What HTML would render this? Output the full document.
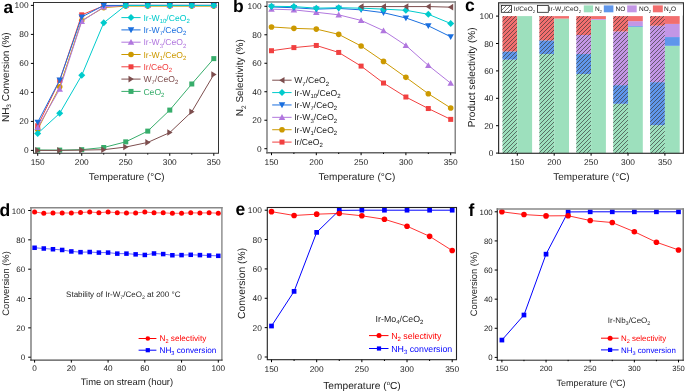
<!DOCTYPE html><html><head><meta charset="utf-8"><style>html,body{margin:0;padding:0;background:#fff;}svg{display:block;will-change:transform;}text{font-family:"Liberation Sans",sans-serif;text-rendering:geometricPrecision;}</style></head><body>
<svg width="685" height="391" viewBox="0 0 685 391">
<defs><pattern id="hatch" patternUnits="userSpaceOnUse" width="4" height="4"><path d="M-1 1L1 -1M0 4L4 0M3 5L5 3" stroke="#333" stroke-width="0.65"/></pattern></defs>
<path d="M37.7 149.97 L59.71 150.11 L81.73 149.68 L103.74 147.5 L125.75 141.84 L147.76 131.12 L169.78 110.09 L191.79 83.99 L213.8 58.62" fill="none" stroke="#37AD6B" stroke-width="1.0" stroke-opacity="1.0" stroke-linejoin="round"/><rect x="35.2" y="147.47" width="5" height="5" fill="#37AD6B"/><rect x="57.21" y="147.61" width="5" height="5" fill="#37AD6B"/><rect x="79.23" y="147.18" width="5" height="5" fill="#37AD6B"/><rect x="101.24" y="145" width="5" height="5" fill="#37AD6B"/><rect x="123.25" y="139.34" width="5" height="5" fill="#37AD6B"/><rect x="145.26" y="128.62" width="5" height="5" fill="#37AD6B"/><rect x="167.28" y="107.59" width="5" height="5" fill="#37AD6B"/><rect x="189.29" y="81.49" width="5" height="5" fill="#37AD6B"/><rect x="211.3" y="56.12" width="5" height="5" fill="#37AD6B"/><path d="M37.7 150.4 L59.71 150.4 L81.73 150.11 L103.74 149.68 L125.75 147.06 L147.76 142.43 L169.78 132.56 L191.79 111.69 L213.8 74.57" fill="none" stroke="#7D4E4E" stroke-width="1.0" stroke-opacity="1.0" stroke-linejoin="round"/><path d="M35.23 147.1L35.23 153.7L40.51 150.4Z" fill="#7D4E4E"/><path d="M57.24 147.1L57.24 153.7L62.52 150.4Z" fill="#7D4E4E"/><path d="M79.25 146.81L79.25 153.41L84.53 150.11Z" fill="#7D4E4E"/><path d="M101.26 146.38L101.26 152.98L106.54 149.68Z" fill="#7D4E4E"/><path d="M123.28 143.76L123.28 150.37L128.56 147.06Z" fill="#7D4E4E"/><path d="M145.29 139.12L145.29 145.73L150.57 142.43Z" fill="#7D4E4E"/><path d="M167.3 129.26L167.3 135.87L172.58 132.56Z" fill="#7D4E4E"/><path d="M189.31 108.39L189.31 114.98L194.59 111.69Z" fill="#7D4E4E"/><path d="M211.33 71.27L211.33 77.87L216.61 74.57Z" fill="#7D4E4E"/><path d="M37.7 129.38 L59.71 86.75 L81.73 20.62 L103.74 7.58 L125.75 6.12 L147.76 6.12 L169.78 6.12 L191.79 6.12 L213.8 6.12" fill="none" stroke="#CC9900" stroke-width="1.0" stroke-opacity="1.0" stroke-linejoin="round"/><circle cx="37.7" cy="129.38" r="2.8" fill="#CC9900"/><circle cx="59.71" cy="86.75" r="2.8" fill="#CC9900"/><circle cx="81.73" cy="20.62" r="2.8" fill="#CC9900"/><circle cx="103.74" cy="7.58" r="2.8" fill="#CC9900"/><circle cx="125.75" cy="6.12" r="2.8" fill="#CC9900"/><circle cx="147.76" cy="6.12" r="2.8" fill="#CC9900"/><circle cx="169.78" cy="6.12" r="2.8" fill="#CC9900"/><circle cx="191.79" cy="6.12" r="2.8" fill="#CC9900"/><circle cx="213.8" cy="6.12" r="2.8" fill="#CC9900"/><path d="M37.7 125.75 L59.71 80.37 L81.73 14.83 L103.74 5.84 L125.75 5.4 L147.76 5.4 L169.78 5.4 L191.79 5.4 L213.8 5.4" fill="none" stroke="#F14040" stroke-width="1.0" stroke-opacity="1.0" stroke-linejoin="round"/><rect x="35.2" y="123.25" width="5" height="5" fill="#F14040"/><rect x="57.21" y="77.87" width="5" height="5" fill="#F14040"/><rect x="79.23" y="12.33" width="5" height="5" fill="#F14040"/><rect x="101.24" y="3.34" width="5" height="5" fill="#F14040"/><rect x="123.25" y="2.9" width="5" height="5" fill="#F14040"/><rect x="145.26" y="2.9" width="5" height="5" fill="#F14040"/><rect x="167.28" y="2.9" width="5" height="5" fill="#F14040"/><rect x="189.29" y="2.9" width="5" height="5" fill="#F14040"/><rect x="211.3" y="2.9" width="5" height="5" fill="#F14040"/><path d="M37.7 127.49 L59.71 89.06 L81.73 21.35 L103.74 6.85 L125.75 5.4 L147.76 5.4 L169.78 5.4 L191.79 5.4 L213.8 5.4" fill="none" stroke="#B177DE" stroke-width="1.0" stroke-opacity="1.0" stroke-linejoin="round"/><path d="M34.45 130.09L40.95 130.09L37.7 124.24Z" fill="#B177DE"/><path d="M56.46 91.66L62.96 91.66L59.71 85.81Z" fill="#B177DE"/><path d="M78.48 23.95L84.98 23.95L81.73 18.1Z" fill="#B177DE"/><path d="M100.49 9.45L106.99 9.45L103.74 3.6Z" fill="#B177DE"/><path d="M122.5 8L129 8L125.75 2.15Z" fill="#B177DE"/><path d="M144.51 8L151.01 8L147.76 2.15Z" fill="#B177DE"/><path d="M166.53 8L173.03 8L169.78 2.15Z" fill="#B177DE"/><path d="M188.54 8L195.04 8L191.79 2.15Z" fill="#B177DE"/><path d="M210.55 8L217.05 8L213.8 2.15Z" fill="#B177DE"/><path d="M37.7 122.27 L59.71 80.08 L81.73 17 L103.74 5.4 L125.75 5.4 L147.76 5.4 L169.78 5.4 L191.79 5.4 L213.8 5.4" fill="none" stroke="#1A6FDF" stroke-width="1.0" stroke-opacity="1.0" stroke-linejoin="round"/><path d="M34.45 119.67L40.95 119.67L37.7 125.52Z" fill="#1A6FDF"/><path d="M56.46 77.48L62.96 77.48L59.71 83.33Z" fill="#1A6FDF"/><path d="M78.48 14.4L84.98 14.4L81.73 20.25Z" fill="#1A6FDF"/><path d="M100.49 2.8L106.99 2.8L103.74 8.65Z" fill="#1A6FDF"/><path d="M122.5 2.8L129 2.8L125.75 8.65Z" fill="#1A6FDF"/><path d="M144.51 2.8L151.01 2.8L147.76 8.65Z" fill="#1A6FDF"/><path d="M166.53 2.8L173.03 2.8L169.78 8.65Z" fill="#1A6FDF"/><path d="M188.54 2.8L195.04 2.8L191.79 8.65Z" fill="#1A6FDF"/><path d="M210.55 2.8L217.05 2.8L213.8 8.65Z" fill="#1A6FDF"/><path d="M37.7 133.44 L59.71 113.28 L81.73 75.29 L103.74 22.8 L125.75 5.4 L147.76 5.4 L169.78 5.4 L191.79 5.4 L213.8 5.4" fill="none" stroke="#00CBCC" stroke-width="1.0" stroke-opacity="1.0" stroke-linejoin="round"/><path d="M37.7 129.94L41.2 133.44L37.7 136.94L34.2 133.44Z" fill="#00CBCC"/><path d="M59.71 109.78L63.21 113.28L59.71 116.78L56.21 113.28Z" fill="#00CBCC"/><path d="M81.73 71.79L85.23 75.29L81.73 78.79L78.23 75.29Z" fill="#00CBCC"/><path d="M103.74 19.3L107.24 22.8L103.74 26.3L100.24 22.8Z" fill="#00CBCC"/><path d="M125.75 1.9L129.25 5.4L125.75 8.9L122.25 5.4Z" fill="#00CBCC"/><path d="M147.76 1.9L151.26 5.4L147.76 8.9L144.26 5.4Z" fill="#00CBCC"/><path d="M169.78 1.9L173.28 5.4L169.78 8.9L166.28 5.4Z" fill="#00CBCC"/><path d="M191.79 1.9L195.29 5.4L191.79 8.9L188.29 5.4Z" fill="#00CBCC"/><path d="M213.8 1.9L217.3 5.4L213.8 8.9L210.3 5.4Z" fill="#00CBCC"/>
<rect x="33.5" y="2.5" width="185" height="150.75" fill="none" stroke="#333" stroke-width="1.0"/>
<line x1="30.9" y1="150.4" x2="33.5" y2="150.4" stroke="#000" stroke-width="1"/><text x="28.6" y="153.4" font-size="8.4" text-anchor="end" fill="#222" font-weight="normal" >0</text><line x1="30.9" y1="121.4" x2="33.5" y2="121.4" stroke="#000" stroke-width="1"/><text x="28.6" y="124.4" font-size="8.4" text-anchor="end" fill="#222" font-weight="normal" >20</text><line x1="30.9" y1="92.4" x2="33.5" y2="92.4" stroke="#000" stroke-width="1"/><text x="28.6" y="95.4" font-size="8.4" text-anchor="end" fill="#222" font-weight="normal" >40</text><line x1="30.9" y1="63.4" x2="33.5" y2="63.4" stroke="#000" stroke-width="1"/><text x="28.6" y="66.4" font-size="8.4" text-anchor="end" fill="#222" font-weight="normal" >60</text><line x1="30.9" y1="34.4" x2="33.5" y2="34.4" stroke="#000" stroke-width="1"/><text x="28.6" y="37.4" font-size="8.4" text-anchor="end" fill="#222" font-weight="normal" >80</text><line x1="30.9" y1="5.4" x2="33.5" y2="5.4" stroke="#000" stroke-width="1"/><text x="28.6" y="8.4" font-size="8.4" text-anchor="end" fill="#222" font-weight="normal" >100</text>
<line x1="37.7" y1="153.3" x2="37.7" y2="155.8" stroke="#000" stroke-width="1"/><text x="37.7" y="164.6" font-size="8.4" text-anchor="middle" fill="#222" font-weight="normal" >150</text><line x1="81.73" y1="153.3" x2="81.73" y2="155.8" stroke="#000" stroke-width="1"/><text x="81.73" y="164.6" font-size="8.4" text-anchor="middle" fill="#222" font-weight="normal" >200</text><line x1="125.75" y1="153.3" x2="125.75" y2="155.8" stroke="#000" stroke-width="1"/><text x="125.75" y="164.6" font-size="8.4" text-anchor="middle" fill="#222" font-weight="normal" >250</text><line x1="169.78" y1="153.3" x2="169.78" y2="155.8" stroke="#000" stroke-width="1"/><text x="169.78" y="164.6" font-size="8.4" text-anchor="middle" fill="#222" font-weight="normal" >300</text><line x1="213.8" y1="153.3" x2="213.8" y2="155.8" stroke="#000" stroke-width="1"/><text x="213.8" y="164.6" font-size="8.4" text-anchor="middle" fill="#222" font-weight="normal" >350</text>
<line x1="59.71" y1="153.3" x2="59.71" y2="154.6" stroke="#000" stroke-width="1"/><line x1="103.74" y1="153.3" x2="103.74" y2="154.6" stroke="#000" stroke-width="1"/><line x1="147.76" y1="153.3" x2="147.76" y2="154.6" stroke="#000" stroke-width="1"/><line x1="191.79" y1="153.3" x2="191.79" y2="154.6" stroke="#000" stroke-width="1"/>
<line x1="121.4" y1="17.6" x2="140.6" y2="17.6" stroke="#00CBCC" stroke-width="1"/>
<path d="M131 14.1L134.5 17.6L131 21.1L127.5 17.6Z" fill="#00CBCC"/>
<text x="143.4" y="20.7" font-size="8.6" text-anchor="start" fill="#00CBCC" font-weight="normal" >Ir-W<tspan font-size="6" dy="2.2">10</tspan><tspan dy="-2.2">​</tspan>/CeO<tspan font-size="6" dy="2.2">2</tspan><tspan dy="-2.2">​</tspan></text>
<line x1="121.4" y1="29.9" x2="140.6" y2="29.9" stroke="#1A6FDF" stroke-width="1"/>
<path d="M127.75 27.3L134.25 27.3L131 33.15Z" fill="#1A6FDF"/>
<text x="143.4" y="33" font-size="8.6" text-anchor="start" fill="#1A6FDF" font-weight="normal" >Ir-W<tspan font-size="6" dy="2.2">7</tspan><tspan dy="-2.2">​</tspan>/CeO<tspan font-size="6" dy="2.2">2</tspan><tspan dy="-2.2">​</tspan></text>
<line x1="121.4" y1="42.2" x2="140.6" y2="42.2" stroke="#B177DE" stroke-width="1"/>
<path d="M127.75 44.8L134.25 44.8L131 38.95Z" fill="#B177DE"/>
<text x="143.4" y="45.3" font-size="8.6" text-anchor="start" fill="#B177DE" font-weight="normal" >Ir-W<tspan font-size="6" dy="2.2">3</tspan><tspan dy="-2.2">​</tspan>/CeO<tspan font-size="6" dy="2.2">2</tspan><tspan dy="-2.2">​</tspan></text>
<line x1="121.4" y1="54.5" x2="140.6" y2="54.5" stroke="#CC9900" stroke-width="1"/>
<circle cx="131" cy="54.5" r="2.8" fill="#CC9900"/>
<text x="143.4" y="57.6" font-size="8.6" text-anchor="start" fill="#CC9900" font-weight="normal" >Ir-W<tspan font-size="6" dy="2.2">1</tspan><tspan dy="-2.2">​</tspan>/CeO<tspan font-size="6" dy="2.2">2</tspan><tspan dy="-2.2">​</tspan></text>
<line x1="121.4" y1="66.8" x2="140.6" y2="66.8" stroke="#F14040" stroke-width="1"/>
<rect x="128.5" y="64.3" width="5" height="5" fill="#F14040"/>
<text x="143.4" y="69.9" font-size="8.6" text-anchor="start" fill="#F14040" font-weight="normal" >Ir/CeO<tspan font-size="6" dy="2.2">2</tspan><tspan dy="-2.2">​</tspan></text>
<line x1="121.4" y1="79.1" x2="140.6" y2="79.1" stroke="#7D4E4E" stroke-width="1"/>
<path d="M128.53 75.8L128.53 82.4L133.81 79.1Z" fill="#7D4E4E"/>
<text x="143.4" y="82.2" font-size="8.6" text-anchor="start" fill="#7D4E4E" font-weight="normal" >W<tspan font-size="6" dy="2.2">7</tspan><tspan dy="-2.2">​</tspan>/CeO<tspan font-size="6" dy="2.2">2</tspan><tspan dy="-2.2">​</tspan></text>
<line x1="121.4" y1="91.4" x2="140.6" y2="91.4" stroke="#37AD6B" stroke-width="1"/>
<rect x="128.5" y="88.9" width="5" height="5" fill="#37AD6B"/>
<text x="143.4" y="94.5" font-size="8.6" text-anchor="start" fill="#37AD6B" font-weight="normal" >CeO<tspan font-size="6" dy="2.2">2</tspan><tspan dy="-2.2">​</tspan></text>
<text x="3.4" y="12.8" font-size="17.2" text-anchor="start" fill="#000" font-weight="bold" >a</text>
<text x="126.7" y="180.1" font-size="9.9" text-anchor="middle" fill="#222" font-weight="normal" >Temperature (°C)</text>
<text transform="translate(9.0,77.2) rotate(-90)" fill="#222" font-size="10" text-anchor="middle">NH<tspan font-size="6.5" dy="2.2">3</tspan><tspan dy="-2.2">​</tspan> Conversion (%)</text>
<path d="M271.5 50.73 L293.9 47.6 L316.3 45.46 L338.7 52.44 L361.1 66.11 L383.5 83.05 L405.9 97.01 L428.3 108.54 L450.7 119.37" fill="none" stroke="#F14040" stroke-width="1.0" stroke-opacity="1.0" stroke-linejoin="round"/><rect x="269" y="48.23" width="5" height="5" fill="#F14040"/><rect x="291.4" y="45.1" width="5" height="5" fill="#F14040"/><rect x="313.8" y="42.96" width="5" height="5" fill="#F14040"/><rect x="336.2" y="49.94" width="5" height="5" fill="#F14040"/><rect x="358.6" y="63.61" width="5" height="5" fill="#F14040"/><rect x="381" y="80.55" width="5" height="5" fill="#F14040"/><rect x="403.4" y="94.51" width="5" height="5" fill="#F14040"/><rect x="425.8" y="106.04" width="5" height="5" fill="#F14040"/><rect x="448.2" y="116.87" width="5" height="5" fill="#F14040"/><path d="M271.5 26.95 L293.9 28.37 L316.3 29.08 L338.7 34.35 L361.1 46.03 L383.5 61.41 L405.9 77.36 L428.3 93.73 L450.7 107.97" fill="none" stroke="#CC9900" stroke-width="1.0" stroke-opacity="1.0" stroke-linejoin="round"/><circle cx="271.5" cy="26.95" r="2.8" fill="#CC9900"/><circle cx="293.9" cy="28.37" r="2.8" fill="#CC9900"/><circle cx="316.3" cy="29.08" r="2.8" fill="#CC9900"/><circle cx="338.7" cy="34.35" r="2.8" fill="#CC9900"/><circle cx="361.1" cy="46.03" r="2.8" fill="#CC9900"/><circle cx="383.5" cy="61.41" r="2.8" fill="#CC9900"/><circle cx="405.9" cy="77.36" r="2.8" fill="#CC9900"/><circle cx="428.3" cy="93.73" r="2.8" fill="#CC9900"/><circle cx="450.7" cy="107.97" r="2.8" fill="#CC9900"/><path d="M271.5 9.15 L293.9 9.86 L316.3 12.28 L338.7 14.84 L361.1 20.4 L383.5 30.65 L405.9 45.46 L428.3 65.4 L450.7 83.2" fill="none" stroke="#B177DE" stroke-width="1.0" stroke-opacity="1.0" stroke-linejoin="round"/><path d="M268.25 11.75L274.75 11.75L271.5 5.9Z" fill="#B177DE"/><path d="M290.65 12.46L297.15 12.46L293.9 6.61Z" fill="#B177DE"/><path d="M313.05 14.88L319.55 14.88L316.3 9.03Z" fill="#B177DE"/><path d="M335.45 17.44L341.95 17.44L338.7 11.59Z" fill="#B177DE"/><path d="M357.85 23L364.35 23L361.1 17.15Z" fill="#B177DE"/><path d="M380.25 33.25L386.75 33.25L383.5 27.4Z" fill="#B177DE"/><path d="M402.65 48.06L409.15 48.06L405.9 42.21Z" fill="#B177DE"/><path d="M425.05 68L431.55 68L428.3 62.15Z" fill="#B177DE"/><path d="M447.45 85.8L453.95 85.8L450.7 79.95Z" fill="#B177DE"/><path d="M271.5 7.01 L293.9 7.72 L316.3 9.15 L338.7 8.44 L361.1 9.86 L383.5 12.71 L405.9 17.98 L428.3 25.81 L450.7 36.77" fill="none" stroke="#1A6FDF" stroke-width="1.0" stroke-opacity="1.0" stroke-linejoin="round"/><path d="M268.25 4.41L274.75 4.41L271.5 10.26Z" fill="#1A6FDF"/><path d="M290.65 5.12L297.15 5.12L293.9 10.97Z" fill="#1A6FDF"/><path d="M313.05 6.55L319.55 6.55L316.3 12.4Z" fill="#1A6FDF"/><path d="M335.45 5.84L341.95 5.84L338.7 11.69Z" fill="#1A6FDF"/><path d="M357.85 7.26L364.35 7.26L361.1 13.11Z" fill="#1A6FDF"/><path d="M380.25 10.11L386.75 10.11L383.5 15.96Z" fill="#1A6FDF"/><path d="M402.65 15.38L409.15 15.38L405.9 21.23Z" fill="#1A6FDF"/><path d="M425.05 23.21L431.55 23.21L428.3 29.06Z" fill="#1A6FDF"/><path d="M447.45 34.17L453.95 34.17L450.7 40.02Z" fill="#1A6FDF"/><path d="M271.5 6.3 L293.9 6.58 L316.3 8.15 L338.7 7.72 L361.1 8.15 L383.5 9.15 L405.9 10.29 L428.3 14.27 L450.7 23.53" fill="none" stroke="#00CBCC" stroke-width="1.0" stroke-opacity="1.0" stroke-linejoin="round"/><path d="M271.5 2.8L275 6.3L271.5 9.8L268 6.3Z" fill="#00CBCC"/><path d="M293.9 3.08L297.4 6.58L293.9 10.08L290.4 6.58Z" fill="#00CBCC"/><path d="M316.3 4.65L319.8 8.15L316.3 11.65L312.8 8.15Z" fill="#00CBCC"/><path d="M338.7 4.22L342.2 7.72L338.7 11.22L335.2 7.72Z" fill="#00CBCC"/><path d="M361.1 4.65L364.6 8.15L361.1 11.65L357.6 8.15Z" fill="#00CBCC"/><path d="M383.5 5.65L387 9.15L383.5 12.65L380 9.15Z" fill="#00CBCC"/><path d="M405.9 6.79L409.4 10.29L405.9 13.79L402.4 10.29Z" fill="#00CBCC"/><path d="M428.3 10.77L431.8 14.27L428.3 17.77L424.8 14.27Z" fill="#00CBCC"/><path d="M450.7 20.03L454.2 23.53L450.7 27.03L447.2 23.53Z" fill="#00CBCC"/><path d="M361.1 6.58 L383.5 6.58 L405.9 6.58 L428.3 6.58 L450.7 7.15" fill="none" stroke="#7D4E4E" stroke-width="1.0" stroke-opacity="1.0" stroke-linejoin="round"/><path d="M363.58 3.28L363.58 9.88L358.3 6.58Z" fill="#7D4E4E"/><path d="M385.98 3.28L385.98 9.88L380.69 6.58Z" fill="#7D4E4E"/><path d="M408.38 3.28L408.38 9.88L403.09 6.58Z" fill="#7D4E4E"/><path d="M430.77 3.28L430.77 9.88L425.49 6.58Z" fill="#7D4E4E"/><path d="M453.18 3.85L453.18 10.45L447.89 7.15Z" fill="#7D4E4E"/>
<line x1="267" y1="1.15" x2="267" y2="153.55" stroke="#888" stroke-width="1.6"/><line x1="455.25" y1="1.15" x2="455.25" y2="153.55" stroke="#888" stroke-width="1.5"/><line x1="266.2" y1="2" x2="456" y2="2" stroke="#888" stroke-width="1.7"/><line x1="266.2" y1="152.8" x2="456" y2="152.8" stroke="#666" stroke-width="1.5"/>
<line x1="264.4" y1="148.7" x2="267" y2="148.7" stroke="#000" stroke-width="1"/><text x="261.6" y="151.7" font-size="8.4" text-anchor="end" fill="#222" font-weight="normal" >0</text><line x1="264.4" y1="120.22" x2="267" y2="120.22" stroke="#000" stroke-width="1"/><text x="261.6" y="123.22" font-size="8.4" text-anchor="end" fill="#222" font-weight="normal" >20</text><line x1="264.4" y1="91.74" x2="267" y2="91.74" stroke="#000" stroke-width="1"/><text x="261.6" y="94.74" font-size="8.4" text-anchor="end" fill="#222" font-weight="normal" >40</text><line x1="264.4" y1="63.26" x2="267" y2="63.26" stroke="#000" stroke-width="1"/><text x="261.6" y="66.26" font-size="8.4" text-anchor="end" fill="#222" font-weight="normal" >60</text><line x1="264.4" y1="34.78" x2="267" y2="34.78" stroke="#000" stroke-width="1"/><text x="261.6" y="37.78" font-size="8.4" text-anchor="end" fill="#222" font-weight="normal" >80</text><line x1="264.4" y1="6.3" x2="267" y2="6.3" stroke="#000" stroke-width="1"/><text x="261.6" y="9.3" font-size="8.4" text-anchor="end" fill="#222" font-weight="normal" >100</text>
<line x1="271.5" y1="152.7" x2="271.5" y2="155.2" stroke="#000" stroke-width="1"/><text x="271.5" y="164.6" font-size="8.4" text-anchor="middle" fill="#222" font-weight="normal" >150</text><line x1="316.3" y1="152.7" x2="316.3" y2="155.2" stroke="#000" stroke-width="1"/><text x="316.3" y="164.6" font-size="8.4" text-anchor="middle" fill="#222" font-weight="normal" >200</text><line x1="361.1" y1="152.7" x2="361.1" y2="155.2" stroke="#000" stroke-width="1"/><text x="361.1" y="164.6" font-size="8.4" text-anchor="middle" fill="#222" font-weight="normal" >250</text><line x1="405.9" y1="152.7" x2="405.9" y2="155.2" stroke="#000" stroke-width="1"/><text x="405.9" y="164.6" font-size="8.4" text-anchor="middle" fill="#222" font-weight="normal" >300</text><line x1="450.7" y1="152.7" x2="450.7" y2="155.2" stroke="#000" stroke-width="1"/><text x="450.7" y="164.6" font-size="8.4" text-anchor="middle" fill="#222" font-weight="normal" >350</text>
<line x1="293.9" y1="152.7" x2="293.9" y2="154" stroke="#000" stroke-width="1"/><line x1="338.7" y1="152.7" x2="338.7" y2="154" stroke="#000" stroke-width="1"/><line x1="383.5" y1="152.7" x2="383.5" y2="154" stroke="#000" stroke-width="1"/><line x1="428.3" y1="152.7" x2="428.3" y2="154" stroke="#000" stroke-width="1"/>
<line x1="272.2" y1="80.2" x2="291.6" y2="80.2" stroke="#7D4E4E" stroke-width="1"/>
<path d="M284.48 76.9L284.48 83.5L279.19 80.2Z" fill="#7D4E4E"/>
<text x="294.2" y="83.3" font-size="8.6" text-anchor="start" fill="#222" font-weight="normal" >W<tspan font-size="6" dy="2.2">7</tspan><tspan dy="-2.2">​</tspan>/CeO<tspan font-size="6" dy="2.2">2</tspan><tspan dy="-2.2">​</tspan></text>
<line x1="272.2" y1="92.58" x2="291.6" y2="92.58" stroke="#00CBCC" stroke-width="1"/>
<path d="M282 89.08L285.5 92.58L282 96.08L278.5 92.58Z" fill="#00CBCC"/>
<text x="294.2" y="95.68" font-size="8.6" text-anchor="start" fill="#222" font-weight="normal" >Ir-W<tspan font-size="6" dy="2.2">10</tspan><tspan dy="-2.2">​</tspan>/CeO<tspan font-size="6" dy="2.2">2</tspan><tspan dy="-2.2">​</tspan></text>
<line x1="272.2" y1="104.96" x2="291.6" y2="104.96" stroke="#1A6FDF" stroke-width="1"/>
<path d="M278.75 102.36L285.25 102.36L282 108.21Z" fill="#1A6FDF"/>
<text x="294.2" y="108.06" font-size="8.6" text-anchor="start" fill="#222" font-weight="normal" >Ir-W<tspan font-size="6" dy="2.2">7</tspan><tspan dy="-2.2">​</tspan>/CeO<tspan font-size="6" dy="2.2">2</tspan><tspan dy="-2.2">​</tspan></text>
<line x1="272.2" y1="117.34" x2="291.6" y2="117.34" stroke="#B177DE" stroke-width="1"/>
<path d="M278.75 119.94L285.25 119.94L282 114.09Z" fill="#B177DE"/>
<text x="294.2" y="120.44" font-size="8.6" text-anchor="start" fill="#222" font-weight="normal" >Ir-W<tspan font-size="6" dy="2.2">3</tspan><tspan dy="-2.2">​</tspan>/CeO<tspan font-size="6" dy="2.2">2</tspan><tspan dy="-2.2">​</tspan></text>
<line x1="272.2" y1="129.72" x2="291.6" y2="129.72" stroke="#CC9900" stroke-width="1"/>
<circle cx="282" cy="129.72" r="2.8" fill="#CC9900"/>
<text x="294.2" y="132.82" font-size="8.6" text-anchor="start" fill="#222" font-weight="normal" >Ir-W<tspan font-size="6" dy="2.2">1</tspan><tspan dy="-2.2">​</tspan>/CeO<tspan font-size="6" dy="2.2">2</tspan><tspan dy="-2.2">​</tspan></text>
<line x1="272.2" y1="142.1" x2="291.6" y2="142.1" stroke="#F14040" stroke-width="1"/>
<rect x="279.5" y="139.6" width="5" height="5" fill="#F14040"/>
<text x="294.2" y="145.2" font-size="8.6" text-anchor="start" fill="#222" font-weight="normal" >Ir/CeO<tspan font-size="6" dy="2.2">2</tspan><tspan dy="-2.2">​</tspan></text>
<text x="233" y="12.3" font-size="17.5" text-anchor="start" fill="#000" font-weight="bold" >b</text>
<text x="356.9" y="180.4" font-size="10" text-anchor="middle" fill="#222" font-weight="normal" >Temperature (°C)</text>
<text transform="translate(243.3,77.7) rotate(-90)" fill="#222" font-size="10" text-anchor="middle">N<tspan font-size="6.5" dy="2.2">2</tspan><tspan dy="-2.2">​</tspan> Selectivity (%)</text>
<rect x="502.5" y="59.67" width="14.8" height="93.43" fill="#9DE0BD"/><rect x="502.5" y="51.45" width="14.8" height="8.22" fill="#5F96EB"/><rect x="502.5" y="16.1" width="14.8" height="35.35" fill="#F26E6E"/><rect x="502.5" y="16.1" width="14.8" height="137" fill="url(#hatch)"/><rect x="517.3" y="16.1" width="14.8" height="137" fill="#9DE0BD"/><rect x="539.4" y="54.05" width="14.8" height="99.05" fill="#9DE0BD"/><rect x="539.4" y="40.35" width="14.8" height="13.7" fill="#5F96EB"/><rect x="539.4" y="16.1" width="14.8" height="24.25" fill="#F26E6E"/><rect x="539.4" y="16.1" width="14.8" height="137" fill="url(#hatch)"/><rect x="554.2" y="18.57" width="14.8" height="134.53" fill="#9DE0BD"/><rect x="554.2" y="16.1" width="14.8" height="2.47" fill="#F26E6E"/><rect x="576.3" y="74.05" width="14.8" height="79.05" fill="#9DE0BD"/><rect x="576.3" y="54.05" width="14.8" height="20" fill="#5F96EB"/><rect x="576.3" y="35.01" width="14.8" height="19.04" fill="#C396E6"/><rect x="576.3" y="16.1" width="14.8" height="18.91" fill="#F26E6E"/><rect x="576.3" y="16.1" width="14.8" height="137" fill="url(#hatch)"/><rect x="591.1" y="19.8" width="14.8" height="133.3" fill="#9DE0BD"/><rect x="591.1" y="18.98" width="14.8" height="0.82" fill="#C396E6"/><rect x="591.1" y="16.1" width="14.8" height="2.88" fill="#F26E6E"/><rect x="613.2" y="103.78" width="14.8" height="49.32" fill="#9DE0BD"/><rect x="613.2" y="85.15" width="14.8" height="18.63" fill="#5F96EB"/><rect x="613.2" y="31.44" width="14.8" height="53.7" fill="#C396E6"/><rect x="613.2" y="16.1" width="14.8" height="15.34" fill="#F26E6E"/><rect x="613.2" y="16.1" width="14.8" height="137" fill="url(#hatch)"/><rect x="628" y="26.79" width="14.8" height="126.31" fill="#9DE0BD"/><rect x="628" y="25.96" width="14.8" height="0.82" fill="#5F96EB"/><rect x="628" y="21.17" width="14.8" height="4.8" fill="#C396E6"/><rect x="628" y="16.1" width="14.8" height="5.07" fill="#F26E6E"/><rect x="650.1" y="125.15" width="14.8" height="27.95" fill="#9DE0BD"/><rect x="650.1" y="82.13" width="14.8" height="43.02" fill="#5F96EB"/><rect x="650.1" y="25.69" width="14.8" height="56.44" fill="#C396E6"/><rect x="650.1" y="16.1" width="14.8" height="9.59" fill="#F26E6E"/><rect x="650.1" y="16.1" width="14.8" height="137" fill="url(#hatch)"/><rect x="664.9" y="45.83" width="14.8" height="107.27" fill="#9DE0BD"/><rect x="664.9" y="37.06" width="14.8" height="8.77" fill="#5F96EB"/><rect x="664.9" y="23.91" width="14.8" height="13.15" fill="#C396E6"/><rect x="664.9" y="16.1" width="14.8" height="7.81" fill="#F26E6E"/>
<rect x="498.6" y="2.8" width="184.8" height="150.5" fill="none" stroke="#333" stroke-width="1.2"/>
<line x1="496" y1="153.1" x2="498.6" y2="153.1" stroke="#000" stroke-width="1"/><text x="493.5" y="156.1" font-size="8.4" text-anchor="end" fill="#222" font-weight="normal" >0</text><line x1="496" y1="125.7" x2="498.6" y2="125.7" stroke="#000" stroke-width="1"/><text x="493.5" y="128.7" font-size="8.4" text-anchor="end" fill="#222" font-weight="normal" >20</text><line x1="496" y1="98.3" x2="498.6" y2="98.3" stroke="#000" stroke-width="1"/><text x="493.5" y="101.3" font-size="8.4" text-anchor="end" fill="#222" font-weight="normal" >40</text><line x1="496" y1="70.9" x2="498.6" y2="70.9" stroke="#000" stroke-width="1"/><text x="493.5" y="73.9" font-size="8.4" text-anchor="end" fill="#222" font-weight="normal" >60</text><line x1="496" y1="43.5" x2="498.6" y2="43.5" stroke="#000" stroke-width="1"/><text x="493.5" y="46.5" font-size="8.4" text-anchor="end" fill="#222" font-weight="normal" >80</text><line x1="496" y1="16.1" x2="498.6" y2="16.1" stroke="#000" stroke-width="1"/><text x="493.5" y="19.1" font-size="8.4" text-anchor="end" fill="#222" font-weight="normal" >100</text>
<line x1="517.3" y1="153.2" x2="517.3" y2="155.7" stroke="#000" stroke-width="1"/><text x="517.3" y="164.6" font-size="8.4" text-anchor="middle" fill="#222" font-weight="normal" >150</text><line x1="554.2" y1="153.2" x2="554.2" y2="155.7" stroke="#000" stroke-width="1"/><text x="554.2" y="164.6" font-size="8.4" text-anchor="middle" fill="#222" font-weight="normal" >200</text><line x1="591.1" y1="153.2" x2="591.1" y2="155.7" stroke="#000" stroke-width="1"/><text x="591.1" y="164.6" font-size="8.4" text-anchor="middle" fill="#222" font-weight="normal" >250</text><line x1="628" y1="153.2" x2="628" y2="155.7" stroke="#000" stroke-width="1"/><text x="628" y="164.6" font-size="8.4" text-anchor="middle" fill="#222" font-weight="normal" >300</text><line x1="664.9" y1="153.2" x2="664.9" y2="155.7" stroke="#000" stroke-width="1"/><text x="664.9" y="164.6" font-size="8.4" text-anchor="middle" fill="#222" font-weight="normal" >350</text>
<rect x="499.8" y="4.0" width="183" height="11.5" fill="#fff" stroke="none"/>
<line x1="499.8" y1="4.3" x2="682.8" y2="4.3" stroke="#aaa" stroke-width="0.6"/><line x1="499.6" y1="4.3" x2="499.6" y2="15" stroke="#aaa" stroke-width="0.6"/>
<rect x="501.3" y="5.4" width="10.2" height="6.9" fill="url(#hatch)" stroke="#222" stroke-width="0.8"/>
<text x="513.6" y="11" font-size="6.5" text-anchor="start" fill="#222" font-weight="normal" >Ir/CeO<tspan font-size="4.3" dy="1.6">2</tspan><tspan dy="-1.6">​</tspan></text>
<rect x="537.5" y="5.4" width="10.8" height="6.9" fill="#fff" stroke="#222" stroke-width="0.8"/>
<text x="548.8" y="11" font-size="6.5" text-anchor="start" fill="#222" font-weight="normal" >Ir-W<tspan font-size="4.3" dy="1.6">7</tspan><tspan dy="-1.6">​</tspan>/CeO<tspan font-size="4.3" dy="1.6">2</tspan><tspan dy="-1.6">​</tspan></text>
<rect x="583.8" y="5.4" width="9.3" height="6.9" fill="#9DE0BD"/>
<text x="594.9" y="11" font-size="6.5" text-anchor="start" fill="#222" font-weight="normal" >N<tspan font-size="4.3" dy="1.6">2</tspan><tspan dy="-1.6">​</tspan></text>
<rect x="603.8" y="5.4" width="9.6" height="6.9" fill="#5F96EB"/>
<text x="615.6" y="11" font-size="6.5" text-anchor="start" fill="#222" font-weight="normal" >NO</text>
<rect x="627.2" y="5.4" width="9.5" height="6.9" fill="#C396E6"/>
<text x="639" y="11" font-size="6.5" text-anchor="start" fill="#222" font-weight="normal" >NO<tspan font-size="4.3" dy="1.6">2</tspan><tspan dy="-1.6">​</tspan></text>
<rect x="652.9" y="5.4" width="9.9" height="6.9" fill="#F26E6E"/>
<text x="664" y="11" font-size="6.5" text-anchor="start" fill="#222" font-weight="normal" >N<tspan font-size="4.3" dy="1.6">2</tspan><tspan dy="-1.6">​</tspan>O</text>
<text x="465" y="10.9" font-size="17.5" text-anchor="start" fill="#000" font-weight="bold" >c</text>
<text x="591.5" y="179.6" font-size="9.95" text-anchor="middle" fill="#222" font-weight="normal" >Temperature (°C)</text>
<text transform="translate(475.4,77.3) rotate(-90)" fill="#222" font-size="10.1" text-anchor="middle">Product selectivity (%)</text>
<path d="M34.6 247.76 L43.79 248.5 L52.97 249.23 L62.16 249.96 L71.34 251.43 L80.53 252.16 L89.71 252.02 L98.9 252.6 L108.08 252.6 L117.27 253.63 L126.45 253.63 L135.64 254.36 L144.82 254.95 L154.01 253.48 L163.19 254.07 L172.38 255.24 L181.56 255.1 L190.75 254.8 L199.93 255.1 L209.11 255.54 L218.3 255.83" fill="none" stroke="#0000FF" stroke-width="1" stroke-opacity="0.6" stroke-linejoin="round"/><rect x="32.35" y="245.51" width="4.5" height="4.5" fill="#0000FF"/><rect x="41.54" y="246.25" width="4.5" height="4.5" fill="#0000FF"/><rect x="50.72" y="246.98" width="4.5" height="4.5" fill="#0000FF"/><rect x="59.91" y="247.71" width="4.5" height="4.5" fill="#0000FF"/><rect x="69.09" y="249.18" width="4.5" height="4.5" fill="#0000FF"/><rect x="78.28" y="249.91" width="4.5" height="4.5" fill="#0000FF"/><rect x="87.46" y="249.77" width="4.5" height="4.5" fill="#0000FF"/><rect x="96.65" y="250.35" width="4.5" height="4.5" fill="#0000FF"/><rect x="105.83" y="250.35" width="4.5" height="4.5" fill="#0000FF"/><rect x="115.02" y="251.38" width="4.5" height="4.5" fill="#0000FF"/><rect x="124.2" y="251.38" width="4.5" height="4.5" fill="#0000FF"/><rect x="133.39" y="252.11" width="4.5" height="4.5" fill="#0000FF"/><rect x="142.57" y="252.7" width="4.5" height="4.5" fill="#0000FF"/><rect x="151.76" y="251.23" width="4.5" height="4.5" fill="#0000FF"/><rect x="160.94" y="251.82" width="4.5" height="4.5" fill="#0000FF"/><rect x="170.12" y="252.99" width="4.5" height="4.5" fill="#0000FF"/><rect x="179.31" y="252.85" width="4.5" height="4.5" fill="#0000FF"/><rect x="188.5" y="252.55" width="4.5" height="4.5" fill="#0000FF"/><rect x="197.68" y="252.85" width="4.5" height="4.5" fill="#0000FF"/><rect x="206.86" y="253.29" width="4.5" height="4.5" fill="#0000FF"/><rect x="216.05" y="253.58" width="4.5" height="4.5" fill="#0000FF"/>
<path d="M34.6 211.97 L43.79 213.29 L52.97 212.99 L62.16 212.99 L71.34 212.99 L80.53 212.55 L89.71 211.97 L98.9 212.7 L108.08 211.97 L117.27 212.7 L126.45 212.99 L135.64 212.99 L144.82 211.97 L154.01 212.85 L163.19 212.85 L172.38 213.29 L181.56 213.29 L190.75 212.85 L199.93 212.99 L209.11 212.85 L218.3 213.14" fill="none" stroke="#FF0000" stroke-width="1" stroke-opacity="0.6" stroke-linejoin="round"/><circle cx="34.6" cy="211.97" r="2.5" fill="#FF0000"/><circle cx="43.79" cy="213.29" r="2.5" fill="#FF0000"/><circle cx="52.97" cy="212.99" r="2.5" fill="#FF0000"/><circle cx="62.16" cy="212.99" r="2.5" fill="#FF0000"/><circle cx="71.34" cy="212.99" r="2.5" fill="#FF0000"/><circle cx="80.53" cy="212.55" r="2.5" fill="#FF0000"/><circle cx="89.71" cy="211.97" r="2.5" fill="#FF0000"/><circle cx="98.9" cy="212.7" r="2.5" fill="#FF0000"/><circle cx="108.08" cy="211.97" r="2.5" fill="#FF0000"/><circle cx="117.27" cy="212.7" r="2.5" fill="#FF0000"/><circle cx="126.45" cy="212.99" r="2.5" fill="#FF0000"/><circle cx="135.64" cy="212.99" r="2.5" fill="#FF0000"/><circle cx="144.82" cy="211.97" r="2.5" fill="#FF0000"/><circle cx="154.01" cy="212.85" r="2.5" fill="#FF0000"/><circle cx="163.19" cy="212.85" r="2.5" fill="#FF0000"/><circle cx="172.38" cy="213.29" r="2.5" fill="#FF0000"/><circle cx="181.56" cy="213.29" r="2.5" fill="#FF0000"/><circle cx="190.75" cy="212.85" r="2.5" fill="#FF0000"/><circle cx="199.93" cy="212.99" r="2.5" fill="#FF0000"/><circle cx="209.11" cy="212.85" r="2.5" fill="#FF0000"/><circle cx="218.3" cy="213.14" r="2.5" fill="#FF0000"/>
<line x1="31" y1="207.1" x2="31" y2="360.6" stroke="#888" stroke-width="1.6"/><line x1="221.9" y1="207.1" x2="221.9" y2="360.6" stroke="#888" stroke-width="1.4"/><line x1="30.2" y1="207.85" x2="222.6" y2="207.85" stroke="#888" stroke-width="1.5"/><line x1="30.2" y1="360.1" x2="222.6" y2="360.1" stroke="#222" stroke-width="1.0"/>
<line x1="28.2" y1="357.2" x2="30.8" y2="357.2" stroke="#000" stroke-width="1"/><text x="25.2" y="360.2" font-size="8" text-anchor="end" fill="#222" font-weight="normal" >0</text><line x1="28.2" y1="327.86" x2="30.8" y2="327.86" stroke="#000" stroke-width="1"/><text x="25.2" y="330.86" font-size="8" text-anchor="end" fill="#222" font-weight="normal" >20</text><line x1="28.2" y1="298.52" x2="30.8" y2="298.52" stroke="#000" stroke-width="1"/><text x="25.2" y="301.52" font-size="8" text-anchor="end" fill="#222" font-weight="normal" >40</text><line x1="28.2" y1="269.18" x2="30.8" y2="269.18" stroke="#000" stroke-width="1"/><text x="25.2" y="272.18" font-size="8" text-anchor="end" fill="#222" font-weight="normal" >60</text><line x1="28.2" y1="239.84" x2="30.8" y2="239.84" stroke="#000" stroke-width="1"/><text x="25.2" y="242.84" font-size="8" text-anchor="end" fill="#222" font-weight="normal" >80</text><line x1="28.2" y1="210.5" x2="30.8" y2="210.5" stroke="#000" stroke-width="1"/><text x="25.2" y="213.5" font-size="8" text-anchor="end" fill="#222" font-weight="normal" >100</text>
<line x1="34.6" y1="360.1" x2="34.6" y2="362.6" stroke="#000" stroke-width="1"/><text x="34.6" y="371.3" font-size="8.2" text-anchor="middle" fill="#222" font-weight="normal" >0</text><line x1="71.34" y1="360.1" x2="71.34" y2="362.6" stroke="#000" stroke-width="1"/><text x="71.34" y="371.3" font-size="8.2" text-anchor="middle" fill="#222" font-weight="normal" >20</text><line x1="108.08" y1="360.1" x2="108.08" y2="362.6" stroke="#000" stroke-width="1"/><text x="108.08" y="371.3" font-size="8.2" text-anchor="middle" fill="#222" font-weight="normal" >40</text><line x1="144.82" y1="360.1" x2="144.82" y2="362.6" stroke="#000" stroke-width="1"/><text x="144.82" y="371.3" font-size="8.2" text-anchor="middle" fill="#222" font-weight="normal" >60</text><line x1="181.56" y1="360.1" x2="181.56" y2="362.6" stroke="#000" stroke-width="1"/><text x="181.56" y="371.3" font-size="8.2" text-anchor="middle" fill="#222" font-weight="normal" >80</text><line x1="218.3" y1="360.1" x2="218.3" y2="362.6" stroke="#000" stroke-width="1"/><text x="218.3" y="371.3" font-size="8.2" text-anchor="middle" fill="#222" font-weight="normal" >100</text>
<text x="66.1" y="296.7" font-size="8" text-anchor="start" fill="#222" font-weight="normal" >Stability of Ir-W<tspan font-size="5.2" dy="1.8">7</tspan><tspan dy="-1.8">​</tspan>/CeO<tspan font-size="5.2" dy="1.8">2</tspan><tspan dy="-1.8">​</tspan> at 200 °C</text>
<line x1="138.6" y1="338.5" x2="156.4" y2="338.5" stroke="#FF0000" stroke-width="1"/>
<circle cx="147.8" cy="338.5" r="2.3" fill="#FF0000"/>
<text x="159.5" y="341.3" font-size="8.2" text-anchor="start" fill="#FF0000" font-weight="normal" >N<tspan font-size="5.6" dy="2">2</tspan><tspan dy="-2">​</tspan> selectivity</text>
<line x1="138.6" y1="350.2" x2="156.4" y2="350.2" stroke="#0000FF" stroke-width="1"/>
<rect x="145.7" y="348.1" width="4.2" height="4.2" fill="#0000FF"/>
<text x="159.5" y="353" font-size="8.2" text-anchor="start" fill="#0000FF" font-weight="normal" >NH<tspan font-size="5.6" dy="2">3</tspan><tspan dy="-2">​</tspan> conversion</text>
<text x="-0.6" y="215.9" font-size="17.5" text-anchor="start" fill="#000" font-weight="bold" >d</text>
<text x="126.9" y="385.4" font-size="9.4" text-anchor="middle" fill="#222" font-weight="normal" >Time on stream (hour)</text>
<text transform="translate(9.4,283.5) rotate(-90)" fill="#222" font-size="9.4" text-anchor="middle">Conversion (%)</text>
<path d="M271.5 326.03 L294.09 291.38 L316.68 232.37 L339.26 210.35 L361.85 210.2 L384.44 210.2 L407.02 210.2 L429.61 210.2 L452.2 210.2" fill="none" stroke="#0000FF" stroke-width="1.0" stroke-opacity="1.0" stroke-linejoin="round"/><rect x="269.15" y="323.68" width="4.7" height="4.7" fill="#0000FF"/><rect x="291.74" y="289.03" width="4.7" height="4.7" fill="#0000FF"/><rect x="314.32" y="230.02" width="4.7" height="4.7" fill="#0000FF"/><rect x="336.91" y="208" width="4.7" height="4.7" fill="#0000FF"/><rect x="359.5" y="207.85" width="4.7" height="4.7" fill="#0000FF"/><rect x="382.09" y="207.85" width="4.7" height="4.7" fill="#0000FF"/><rect x="404.67" y="207.85" width="4.7" height="4.7" fill="#0000FF"/><rect x="427.26" y="207.85" width="4.7" height="4.7" fill="#0000FF"/><rect x="449.85" y="207.85" width="4.7" height="4.7" fill="#0000FF"/>
<path d="M271.5 211.67 L294.09 215.48 L316.68 214.16 L339.26 213.43 L361.85 215.78 L384.44 219.3 L407.02 226.2 L429.61 236.33 L452.2 250.57" fill="none" stroke="#FF0000" stroke-width="1.0" stroke-opacity="0.8" stroke-linejoin="round"/><circle cx="271.5" cy="211.67" r="2.8" fill="#FF0000"/><circle cx="294.09" cy="215.48" r="2.8" fill="#FF0000"/><circle cx="316.68" cy="214.16" r="2.8" fill="#FF0000"/><circle cx="339.26" cy="213.43" r="2.8" fill="#FF0000"/><circle cx="361.85" cy="215.78" r="2.8" fill="#FF0000"/><circle cx="384.44" cy="219.3" r="2.8" fill="#FF0000"/><circle cx="407.02" cy="226.2" r="2.8" fill="#FF0000"/><circle cx="429.61" cy="236.33" r="2.8" fill="#FF0000"/><circle cx="452.2" cy="250.57" r="2.8" fill="#FF0000"/>
<rect x="267.3" y="207.5" width="189.2" height="152.2" fill="none" stroke="#222" stroke-width="1.1"/>
<line x1="264.7" y1="357" x2="267.3" y2="357" stroke="#000" stroke-width="1"/><text x="261.8" y="360" font-size="8.4" text-anchor="end" fill="#222" font-weight="normal" >0</text><line x1="264.7" y1="327.64" x2="267.3" y2="327.64" stroke="#000" stroke-width="1"/><text x="261.8" y="330.64" font-size="8.4" text-anchor="end" fill="#222" font-weight="normal" >20</text><line x1="264.7" y1="298.28" x2="267.3" y2="298.28" stroke="#000" stroke-width="1"/><text x="261.8" y="301.28" font-size="8.4" text-anchor="end" fill="#222" font-weight="normal" >40</text><line x1="264.7" y1="268.92" x2="267.3" y2="268.92" stroke="#000" stroke-width="1"/><text x="261.8" y="271.92" font-size="8.4" text-anchor="end" fill="#222" font-weight="normal" >60</text><line x1="264.7" y1="239.56" x2="267.3" y2="239.56" stroke="#000" stroke-width="1"/><text x="261.8" y="242.56" font-size="8.4" text-anchor="end" fill="#222" font-weight="normal" >80</text><line x1="264.7" y1="210.2" x2="267.3" y2="210.2" stroke="#000" stroke-width="1"/><text x="261.8" y="213.2" font-size="8.4" text-anchor="end" fill="#222" font-weight="normal" >100</text>
<line x1="271.5" y1="359.7" x2="271.5" y2="362.2" stroke="#000" stroke-width="1"/><text x="271.5" y="371.6" font-size="8.4" text-anchor="middle" fill="#222" font-weight="normal" >150</text><line x1="316.68" y1="359.7" x2="316.68" y2="362.2" stroke="#000" stroke-width="1"/><text x="316.68" y="371.6" font-size="8.4" text-anchor="middle" fill="#222" font-weight="normal" >200</text><line x1="361.85" y1="359.7" x2="361.85" y2="362.2" stroke="#000" stroke-width="1"/><text x="361.85" y="371.6" font-size="8.4" text-anchor="middle" fill="#222" font-weight="normal" >250</text><line x1="407.02" y1="359.7" x2="407.02" y2="362.2" stroke="#000" stroke-width="1"/><text x="407.02" y="371.6" font-size="8.4" text-anchor="middle" fill="#222" font-weight="normal" >300</text><line x1="452.2" y1="359.7" x2="452.2" y2="362.2" stroke="#000" stroke-width="1"/><text x="452.2" y="371.6" font-size="8.4" text-anchor="middle" fill="#222" font-weight="normal" >350</text>
<line x1="294.09" y1="359.7" x2="294.09" y2="361" stroke="#000" stroke-width="1"/><line x1="339.26" y1="359.7" x2="339.26" y2="361" stroke="#000" stroke-width="1"/><line x1="384.44" y1="359.7" x2="384.44" y2="361" stroke="#000" stroke-width="1"/><line x1="429.61" y1="359.7" x2="429.61" y2="361" stroke="#000" stroke-width="1"/>
<text x="375.6" y="321.6" font-size="8.8" text-anchor="start" fill="#222" font-weight="normal" >Ir-Mo<tspan font-size="6" dy="2.2">4</tspan><tspan dy="-2.2">​</tspan>/CeO<tspan font-size="6" dy="2.2">2</tspan><tspan dy="-2.2">​</tspan></text>
<line x1="369" y1="335.6" x2="388.5" y2="335.6" stroke="#FF0000" stroke-width="1"/>
<circle cx="379" cy="335.6" r="2.5" fill="#FF0000"/>
<text x="391.2" y="338.9" font-size="8.8" text-anchor="start" fill="#FF0000" font-weight="normal" >N<tspan font-size="6" dy="2.2">2</tspan><tspan dy="-2.2">​</tspan> selectivity</text>
<line x1="369" y1="348.5" x2="388.5" y2="348.5" stroke="#0000FF" stroke-width="1"/>
<rect x="376.9" y="346.4" width="4.2" height="4.2" fill="#0000FF"/>
<text x="391.2" y="351.8" font-size="8.8" text-anchor="start" fill="#0000FF" font-weight="normal" >NH<tspan font-size="6" dy="2.2">3</tspan><tspan dy="-2.2">​</tspan> conversion</text>
<text x="235.6" y="215.2" font-size="17.5" text-anchor="start" fill="#000" font-weight="bold" >e</text>
<text x="362" y="388.6" fill="#222" font-size="10.2" text-anchor="middle">Temperature (<tspan font-size="6" dy="-3.6">o</tspan><tspan dy="3.6">C)</tspan></text>
<text transform="translate(245.0,283.4) rotate(-90)" fill="#222" font-size="10.3" text-anchor="middle">Conversion (%)</text>
<path d="M501.9 340.07 L523.98 315.03 L546.05 254.17 L568.12 211.95 L590.2 211.8 L612.27 211.8 L634.35 211.8 L656.42 211.8 L678.5 211.8" fill="none" stroke="#0000FF" stroke-width="1.0" stroke-opacity="1.0" stroke-linejoin="round"/><rect x="499.55" y="337.72" width="4.7" height="4.7" fill="#0000FF"/><rect x="521.62" y="312.68" width="4.7" height="4.7" fill="#0000FF"/><rect x="543.7" y="251.82" width="4.7" height="4.7" fill="#0000FF"/><rect x="565.77" y="209.6" width="4.7" height="4.7" fill="#0000FF"/><rect x="587.85" y="209.45" width="4.7" height="4.7" fill="#0000FF"/><rect x="609.92" y="209.45" width="4.7" height="4.7" fill="#0000FF"/><rect x="632" y="209.45" width="4.7" height="4.7" fill="#0000FF"/><rect x="654.07" y="209.45" width="4.7" height="4.7" fill="#0000FF"/><rect x="676.15" y="209.45" width="4.7" height="4.7" fill="#0000FF"/>
<path d="M501.9 211.8 L523.98 214.57 L546.05 215.88 L568.12 215.73 L590.2 220.54 L612.27 222.57 L634.35 231.75 L656.42 242.23 L678.5 249.95" fill="none" stroke="#FF0000" stroke-width="1.0" stroke-opacity="0.8" stroke-linejoin="round"/><circle cx="501.9" cy="211.8" r="2.8" fill="#FF0000"/><circle cx="523.98" cy="214.57" r="2.8" fill="#FF0000"/><circle cx="546.05" cy="215.88" r="2.8" fill="#FF0000"/><circle cx="568.12" cy="215.73" r="2.8" fill="#FF0000"/><circle cx="590.2" cy="220.54" r="2.8" fill="#FF0000"/><circle cx="612.27" cy="222.57" r="2.8" fill="#FF0000"/><circle cx="634.35" cy="231.75" r="2.8" fill="#FF0000"/><circle cx="656.42" cy="242.23" r="2.8" fill="#FF0000"/><circle cx="678.5" cy="249.95" r="2.8" fill="#FF0000"/>
<line x1="497.3" y1="208.15" x2="497.3" y2="360.7" stroke="#333" stroke-width="1.2"/><line x1="683.2" y1="208.15" x2="683.2" y2="360.7" stroke="#555" stroke-width="1.2"/><line x1="496.7" y1="209" x2="683.8" y2="209" stroke="#888" stroke-width="1.7"/><line x1="496.7" y1="360.2" x2="683.8" y2="360.2" stroke="#222" stroke-width="1.0"/>
<line x1="494.7" y1="357.4" x2="497.3" y2="357.4" stroke="#000" stroke-width="1"/><text x="492.6" y="360.4" font-size="7.8" text-anchor="end" fill="#222" font-weight="normal" >0</text><line x1="494.7" y1="328.28" x2="497.3" y2="328.28" stroke="#000" stroke-width="1"/><text x="492.6" y="331.28" font-size="7.8" text-anchor="end" fill="#222" font-weight="normal" >20</text><line x1="494.7" y1="299.16" x2="497.3" y2="299.16" stroke="#000" stroke-width="1"/><text x="492.6" y="302.16" font-size="7.8" text-anchor="end" fill="#222" font-weight="normal" >40</text><line x1="494.7" y1="270.04" x2="497.3" y2="270.04" stroke="#000" stroke-width="1"/><text x="492.6" y="273.04" font-size="7.8" text-anchor="end" fill="#222" font-weight="normal" >60</text><line x1="494.7" y1="240.92" x2="497.3" y2="240.92" stroke="#000" stroke-width="1"/><text x="492.6" y="243.92" font-size="7.8" text-anchor="end" fill="#222" font-weight="normal" >80</text><line x1="494.7" y1="211.8" x2="497.3" y2="211.8" stroke="#000" stroke-width="1"/><text x="492.6" y="214.8" font-size="7.8" text-anchor="end" fill="#222" font-weight="normal" >100</text>
<line x1="501.9" y1="359.9" x2="501.9" y2="362.4" stroke="#000" stroke-width="1"/><text x="501.9" y="371.4" font-size="7.6" text-anchor="middle" fill="#222" font-weight="normal" >150</text><line x1="546.05" y1="359.9" x2="546.05" y2="362.4" stroke="#000" stroke-width="1"/><text x="546.05" y="371.4" font-size="7.6" text-anchor="middle" fill="#222" font-weight="normal" >200</text><line x1="590.2" y1="359.9" x2="590.2" y2="362.4" stroke="#000" stroke-width="1"/><text x="590.2" y="371.4" font-size="7.6" text-anchor="middle" fill="#222" font-weight="normal" >250</text><line x1="634.35" y1="359.9" x2="634.35" y2="362.4" stroke="#000" stroke-width="1"/><text x="634.35" y="371.4" font-size="7.6" text-anchor="middle" fill="#222" font-weight="normal" >300</text><line x1="678.5" y1="359.9" x2="678.5" y2="362.4" stroke="#000" stroke-width="1"/><text x="678.5" y="371.4" font-size="7.6" text-anchor="middle" fill="#222" font-weight="normal" >350</text>
<line x1="523.98" y1="359.9" x2="523.98" y2="361.2" stroke="#000" stroke-width="1"/><line x1="568.12" y1="359.9" x2="568.12" y2="361.2" stroke="#000" stroke-width="1"/><line x1="612.27" y1="359.9" x2="612.27" y2="361.2" stroke="#000" stroke-width="1"/><line x1="656.42" y1="359.9" x2="656.42" y2="361.2" stroke="#000" stroke-width="1"/>
<text x="607.8" y="322.6" font-size="8" text-anchor="start" fill="#222" font-weight="normal" >Ir-Nb<tspan font-size="5.5" dy="2">3</tspan><tspan dy="-2">​</tspan>/CeO<tspan font-size="5.5" dy="2">2</tspan><tspan dy="-2">​</tspan></text>
<line x1="601" y1="338.2" x2="618.6" y2="338.2" stroke="#FF0000" stroke-width="1"/>
<circle cx="610.1" cy="338.2" r="2.5" fill="#FF0000"/>
<text x="621" y="341" font-size="7.9" text-anchor="start" fill="#FF0000" font-weight="normal" >N<tspan font-size="5.5" dy="2">2</tspan><tspan dy="-2">​</tspan> selectivity</text>
<line x1="601" y1="349.9" x2="618.6" y2="349.9" stroke="#0000FF" stroke-width="1"/>
<rect x="608" y="347.8" width="4.2" height="4.2" fill="#0000FF"/>
<text x="621" y="352.7" font-size="7.9" text-anchor="start" fill="#0000FF" font-weight="normal" >NH<tspan font-size="5.5" dy="2">3</tspan><tspan dy="-2">​</tspan> conversion</text>
<text x="468.6" y="216" font-size="17.5" text-anchor="start" fill="#000" font-weight="bold" >f</text>
<text x="591" y="386.4" fill="#222" font-size="9.05" text-anchor="middle">Temperature (<tspan font-size="5.6" dy="-3.4">o</tspan><tspan dy="3.4">C)</tspan></text>
<text transform="translate(476.6,283.9) rotate(-90)" fill="#222" font-size="9.4" text-anchor="middle">Conversion (%)</text>
</svg></body></html>
